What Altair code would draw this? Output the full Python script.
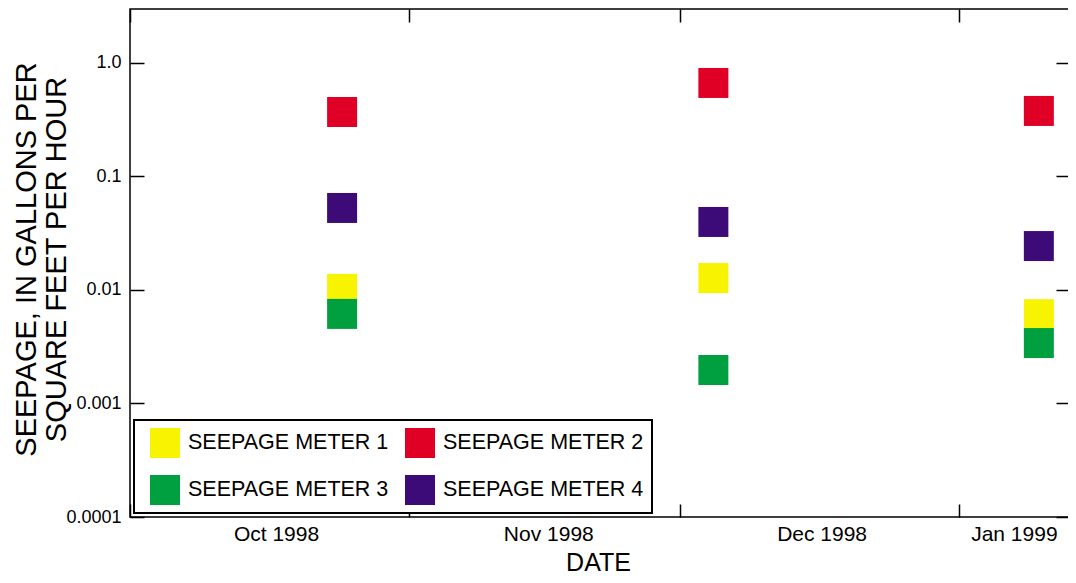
import altair as alt
import pandas as pd

# ---- data ----
dates = ["1998-10-24T13:00", "1998-12-04T18:00", "1999-01-09T21:00"]
meters = ["SEEPAGE METER 1", "SEEPAGE METER 2", "SEEPAGE METER 3", "SEEPAGE METER 4"]
meter1 = [0.0102, 0.0127, 0.0061]
meter2 = [0.368, 0.663, 0.376]
meter3 = [0.00614, 0.00197, 0.0034]
meter4 = [0.0526, 0.0396, 0.0243]
colors = ["#F8F300", "#E00025", "#009F3F", "#3C0B78"]
y_ticks = [0.0001, 0.001, 0.01, 0.1, 1.0]
y_domain = [0.0001, 2.97]
month_ticks = [(1998, 10, 1), (1998, 11, 1), (1998, 12, 1), (1999, 1, 1)]
x_start = (1998, 10, 1, 0)
x_end = (1999, 1, 13, 8)

rows = []
for name, vals in zip(meters, [meter1, meter2, meter3, meter4]):
    for d, v in zip(dates, vals):
        rows.append({"date": d, "seepage": v, "meter": name})
df = pd.DataFrame(rows)

W, H = 940, 508
FONT = "Liberation Sans"

def dt(t):
    if len(t) == 4:
        return alt.DateTime(year=t[0], month=t[1], date=t[2], hours=t[3])
    return alt.DateTime(year=t[0], month=t[1], date=t[2])

chart = alt.Chart(df).mark_point(
    shape="square", filled=True, size=900, opacity=1, strokeWidth=0
).encode(
    x=alt.X(
        "date:T",
        scale=alt.Scale(domain=[dt(x_start), dt(x_end)], nice=False),
        axis=alt.Axis(
            values=[dt(t) for t in month_ticks],
            format="%b %Y",
            ticks=False,
            domain=False,
            grid=True,
            gridColor="black",
            gridWidth=1.5,
            gridOpacity=1,
            gridDash=[13, H - 26, 13, 3000],
            labelFontSize=21,
            labelFont=FONT,
            labelColor="black",
            labelPadding=6,
            labelFlush=False,
            labelOverlap=False,
            labelBound=False,
            labelAlign="center",
            labelOffset={"expr": "month(datum.value) == 0 ? 55 : (month(datum.value) == 9 ? 146 : (month(datum.value) == 11 ? 142 : 139))"},
            title="DATE",
            titleFont=FONT,
            titleFontSize=25,
            titleFontWeight="normal",
            titleColor="black",
            titleX=W / 2 - 2,
            titleY=53,
            titleBaseline="alphabetic",
            titleAnchor="middle",
        ),
    ),
    y=alt.Y(
        "seepage:Q",
        scale=alt.Scale(type="log", domain=y_domain, nice=False),
        axis=alt.Axis(
            values=y_ticks,
            labelExpr="datum.value >= 1 ? '1.0' : '' + datum.value",
            ticks=False,
            domain=False,
            grid=True,
            gridColor="black",
            gridWidth=1.5,
            gridOpacity=1,
            gridDash=[14, W - 28, 14, 3000],
            labelFontSize=18,
            labelFont=FONT,
            labelColor="black",
            labelPadding=9,
            labelFlush=False,
            labelOverlap=False,
            title=["SEEPAGE, IN GALLONS PER", "SQUARE FEET PER HOUR"],
            titleFont=FONT,
            titleFontSize=29,
            titleFontWeight="normal",
            titleColor="black",
            titleLineHeight=30,
            titleAngle=270,
            titleX=-104,
            titleY=250,
            titleAlign="center",
            titleBaseline="middle",
        ),
    ),
    color=alt.Color(
        "meter:N",
        scale=alt.Scale(domain=meters, range=colors),
        title=None,
        legend=alt.Legend(
            orient="bottom-left",
            direction="horizontal",
            columns=2,
            symbolType="square",
            symbolSize=900,
            symbolStrokeWidth=0,
            symbolOffset=8,
            labelFont=FONT,
            labelFontSize=21.5,
            labelColor="black",
            labelLimit=400,
            labelOffset=8,
            rowPadding=17,
            columnPadding=8,
            padding=8,
            offset=4,
            strokeColor="black",
            fillColor="white",
        ),
    ),
    order=alt.Order("meter:N"),
).properties(
    width=W,
    height=H,
    autosize=alt.AutoSizeParams(type="none"),
    padding={"left": 122, "top": 1, "right": -2, "bottom": 58},
).configure_view(
    stroke="black", strokeWidth=1.5
).configure_legend(
    strokeWidth=2
)

chart.save("out.html", embed_options={"renderer": "svg", "actions": False})
